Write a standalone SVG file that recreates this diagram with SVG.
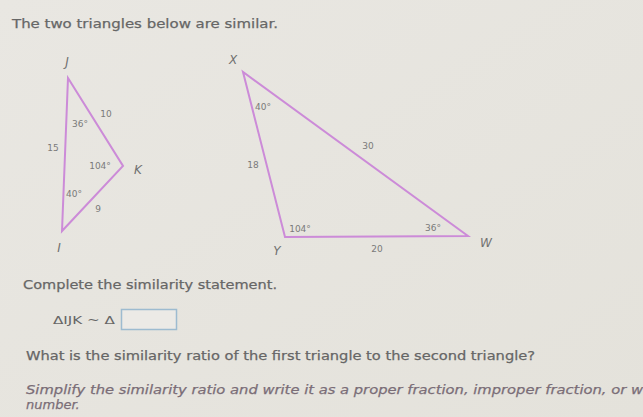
<svg xmlns="http://www.w3.org/2000/svg" width="643" height="417" viewBox="0 0 643 417">
<defs>
<linearGradient id="bg" x1="0" y1="0" x2="1" y2="1">
<stop offset="0" stop-color="#e9e7e2"/>
<stop offset="1" stop-color="#e4e2db"/>
</linearGradient>
</defs>
<style>
.t{font-family:"DejaVu Sans",Verdana,sans-serif;fill:#666;font-size:13px;stroke:#666;stroke-width:0.25}
.it{font-style:italic;fill:#7a6d77;stroke:#7a6d77}
.tri{fill:none;stroke:#cc8bd8;stroke-width:2;stroke-linejoin:miter}
.lb{font-family:"DejaVu Sans",Verdana,sans-serif;fill:#7a7a7a;font-size:9px;text-anchor:middle}
.vx{font-family:"DejaVu Sans",Verdana,sans-serif;fill:#707070;font-size:12px;font-style:italic;text-anchor:middle}
</style>
<rect width="643" height="417" fill="url(#bg)"/>
<text class="t" x="12" y="28" textLength="266" lengthAdjust="spacingAndGlyphs">The two triangles below are similar.</text>

<g id="triangle-IJK">
<polygon class="tri" points="68,78 123,166 62,231"/>
<text class="vx" x="67" y="66">J</text>
<text class="vx" x="138" y="174">K</text>
<text class="vx" x="59" y="252">I</text>
<text class="lb" x="106" y="117">10</text>
<text class="lb" x="80" y="127">36°</text>
<text class="lb" x="53" y="151">15</text>
<text class="lb" x="100" y="169">104°</text>
<text class="lb" x="74" y="197">40°</text>
<text class="lb" x="98" y="212">9</text>
</g>

<g id="triangle-XYW">
<polygon class="tri" points="243,72 285,237 468,236"/>
<text class="vx" x="233" y="64">X</text>
<text class="vx" x="277" y="255">Y</text>
<text class="vx" x="486" y="247">W</text>
<text class="lb" x="263" y="110">40°</text>
<text class="lb" x="253" y="168">18</text>
<text class="lb" x="368" y="149">30</text>
<text class="lb" x="300" y="232">104°</text>
<text class="lb" x="433" y="231">36°</text>
<text class="lb" x="377" y="252">20</text>
</g>

<text class="t" x="23" y="289" textLength="254" lengthAdjust="spacingAndGlyphs">Complete the similarity statement.</text>
<g id="statement">
<text class="t" x="53" y="324" style="font-size:11px;stroke-width:0" textLength="62" lengthAdjust="spacingAndGlyphs">ΔIJK ~ Δ</text>
<rect x="121.5" y="309.5" width="55" height="20" fill="#eceae6" stroke="#9dbbd0" stroke-width="1.5"/>
</g>
<text class="t" x="26" y="360" textLength="509" lengthAdjust="spacingAndGlyphs">What is the similarity ratio of the first triangle to the second triangle?</text>
<text class="t it" x="26" y="394" textLength="617" lengthAdjust="spacingAndGlyphs">Simplify the similarity ratio and write it as a proper fraction, improper fraction, or w</text>
<text class="t it" x="26" y="409">number.</text>
</svg>
